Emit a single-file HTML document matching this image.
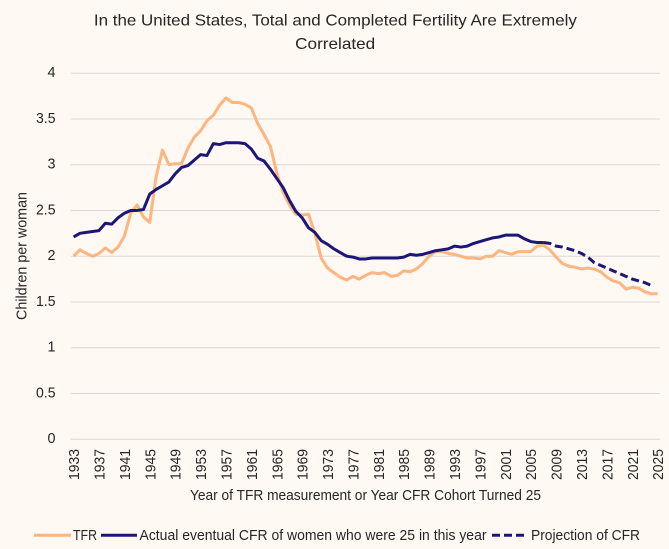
<!DOCTYPE html>
<html lang="en">
<head>
<meta charset="utf-8">
<title>Total and Completed Fertility</title>
<style>
html,body{margin:0;padding:0;background:#FFF8F3;}
body{width:669px;height:549px;overflow:hidden;}
svg{display:block;font-family:"Liberation Sans",sans-serif;fill:#262626;}
</style>
</head>
<body>
<svg id="chart" width="669" height="549" viewBox="0 0 669 549" xmlns="http://www.w3.org/2000/svg">
  <rect x="0" y="0" width="669" height="549" fill="#FFF8F3"/>
  <text x="335.4" y="25.7" font-size="16" text-anchor="middle" textLength="483" lengthAdjust="spacingAndGlyphs">In the United States, Total and Completed Fertility Are Extremely</text>
  <text x="335.2" y="49" font-size="16" text-anchor="middle" textLength="80" lengthAdjust="spacingAndGlyphs">Correlated</text>
  <g id="grid"></g>
  <g id="yticks"></g>
  <g id="xticks"></g>
  <g id="series"></g>
  <text transform="translate(26.7,320) rotate(-90)" font-size="15" textLength="128" lengthAdjust="spacingAndGlyphs">Children per woman</text>
  <text x="190" y="500" font-size="15" textLength="351" lengthAdjust="spacingAndGlyphs">Year of TFR measurement or Year CFR Cohort Turned 25</text>
  <g>
    <line x1="34" y1="535.3" x2="71" y2="535.3" stroke="#FFB57F" stroke-width="3"/>
    <text x="73" y="540" font-size="15" textLength="24" lengthAdjust="spacingAndGlyphs">TFR</text>
    <line x1="101" y1="535.3" x2="137" y2="535.3" stroke="#1B1778" stroke-width="3"/>
    <text x="139.5" y="540" font-size="15" textLength="347" lengthAdjust="spacingAndGlyphs">Actual eventual CFR of women who were 25 in this year</text>
    <line x1="492" y1="535.3" x2="525" y2="535.3" stroke="#1B1778" stroke-width="3" stroke-dasharray="8 4"/>
    <text x="531" y="540" font-size="15" textLength="109" lengthAdjust="spacingAndGlyphs">Projection of CFR</text>
  </g>
</svg>
<script>
const years = [1933,1934,1935,1936,1937,1938,1939,1940,1941,1942,1943,1944,1945,1946,1947,1948,1949,1950,1951,1952,1953,1954,1955,1956,1957,1958,1959,1960,1961,1962,1963,1964,1965,1966,1967,1968,1969,1970,1971,1972,1973,1974,1975,1976,1977,1978,1979,1980,1981,1982,1983,1984,1985,1986,1987,1988,1989,1990,1991,1992,1993,1994,1995,1996,1997,1998,1999,2000,2001,2002,2003,2004,2005,2006,2007,2008,2009,2010,2011,2012,2013,2014,2015,2016,2017,2018,2019,2020,2021,2022,2023,2024,2025];
const tfrValues = [2.00,2.07,2.03,2.00,2.03,2.09,2.04,2.10,2.22,2.47,
  2.56,2.43,2.37,2.87,3.16,3.00,3.01,3.01,3.18,3.30,
  3.37,3.48,3.54,3.65,3.73,3.68,3.68,3.66,3.62,3.45,
  3.33,3.20,2.91,2.70,2.56,2.46,2.45,2.46,2.25,1.98,
  1.87,1.82,1.77,1.74,1.78,1.75,1.79,1.82,1.81,1.82,
  1.78,1.79,1.84,1.83,1.86,1.92,2.00,2.05,2.05,2.03,
  2.02,2.00,1.98,1.98,1.97,2.00,2.00,2.06,2.04,2.02,
  2.05,2.05,2.05,2.11,2.12,2.07,1.99,1.92,1.89,1.88,
  1.86,1.87,1.86,1.83,1.77,1.73,1.71,1.64,1.66,1.65,
  1.61,1.59,1.59];
const cfrActualValues = [2.21,2.25,2.26,2.27,2.28,2.36,2.35,2.42,2.47,2.50,
  2.50,2.51,2.68,2.73,2.77,2.81,2.90,2.97,2.99,3.05,
  3.11,3.10,3.23,3.22,3.24,3.24,3.24,3.23,3.17,3.07,
  3.04,2.95,2.85,2.75,2.61,2.49,2.42,2.31,2.26,2.17,
  2.13,2.08,2.04,2.00,1.99,1.97,1.97,1.98,1.98,1.98,
  1.98,1.98,1.99,2.02,2.01,2.02,2.04,2.06,2.07,2.08,
  2.11,2.10,2.11,2.14,2.16,2.18,2.20,2.21,2.23,2.23,
  2.23,2.19,2.16,2.15,2.15];
const projectionYears = [2007,2008,2009,2010,2011,2012,2013,2014,2015,2016,2017,2018,2019,2020,2021,2022,2023,2024];
const projectionValues = [2.15,2.14,2.11,2.10,2.08,2.06,2.03,1.99,1.93,1.90,1.87,1.84,1.81,1.78,1.75,1.73,1.71,1.68];
const yTickLabels = ["0","0.5","1","1.5","2","2.5","3","3.5","4"];
const xTickLabels = ["1933","1937","1941","1945","1949","1953","1957","1961","1965","1969","1973","1977","1981","1985","1989","1993","1997","2001","2005","2009","2013","2017","2021","2025"];

const NS = 'http://www.w3.org/2000/svg';
function xScale(year){ return 73.6 + (year - 1933) * (657.7 - 73.6) / 92; }
function yScale(v){ return 439.2 - v * 91.5; }

const grid = document.getElementById('grid');
const yticks = document.getElementById('yticks');
yTickLabels.forEach(function(label){
  const y = yScale(parseFloat(label));
  const ln = document.createElementNS(NS, 'line');
  
  
  ln.setAttribute('x1', 70.7);
  ln.setAttribute('x2', 660);
  ln.setAttribute('y1', y);
  ln.setAttribute('y2', y);
  ln.setAttribute('stroke', '#D9D9D9');
  ln.setAttribute('stroke-width', '1');
  grid.appendChild(ln);
  const t = document.createElementNS(NS, 'text');
  
  
  t.setAttribute('x', 55.5);
  t.setAttribute('y', y + 4);
  t.setAttribute('font-size', '15');
  t.setAttribute('text-anchor', 'end');
  t.setAttribute('textLength', label.length > 1 ? 19.5 : 8);
  t.setAttribute('lengthAdjust', 'spacingAndGlyphs');
  t.textContent = label;
  yticks.appendChild(t);
});

const xticks = document.getElementById('xticks');
xTickLabels.forEach(function(label){
  const x = xScale(parseFloat(label));
  const t = document.createElementNS(NS, 'text');
  
  
  t.setAttribute('transform', 'translate(' + (x + 5.5) + ',480) rotate(-90)');
  t.setAttribute('font-size', '15');
  t.setAttribute('textLength', '31');
  t.setAttribute('lengthAdjust', 'spacingAndGlyphs');
  t.textContent = label;
  xticks.appendChild(t);
});

function drawLine(xs, vals, color, dash, name){
  const p = document.createElementNS(NS, 'polyline');
  
  
  p.setAttribute('points', vals.map(function(v, i){ return xScale(xs[i]).toFixed(2) + ',' + yScale(v).toFixed(2); }).join(' '));
  p.setAttribute('fill', 'none');
  p.setAttribute('stroke', color);
  p.setAttribute('stroke-width', '3');
  p.setAttribute('stroke-linejoin', 'round');
  if (dash) p.setAttribute('stroke-dasharray', dash);
  document.getElementById('series').appendChild(p);
}
drawLine(years, tfrValues, '#FFB57F', null, 'tfr-line');
drawLine(years, cfrActualValues, '#1B1778', null, 'actual-cfr-line');
drawLine(projectionYears, projectionValues, '#1B1778', '8 4', 'projected-cfr-line');
</script>
</body>
</html>
